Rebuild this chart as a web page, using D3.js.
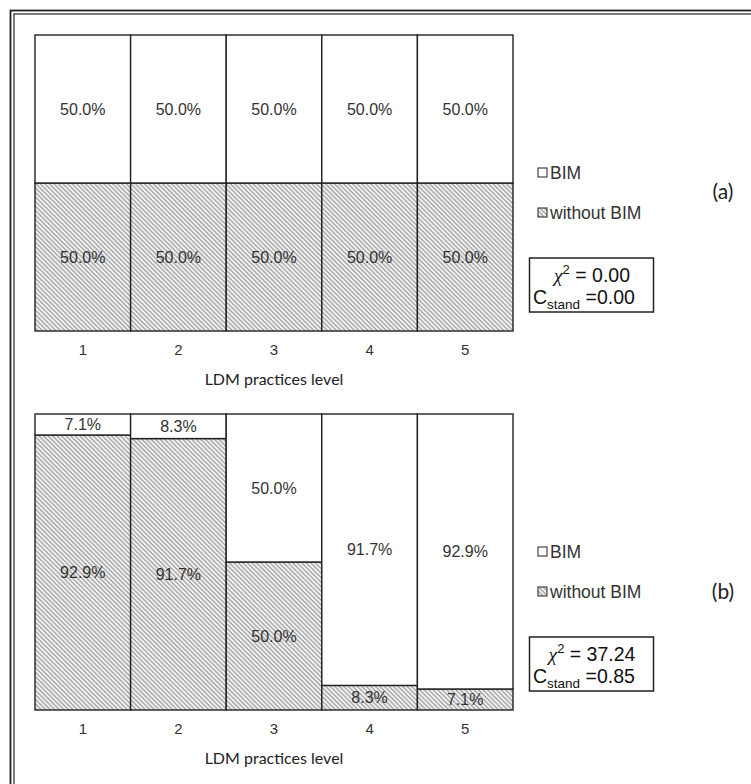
<!DOCTYPE html>
<html>
<head>
<meta charset="utf-8">
<script src="https://cdn.jsdelivr.net/npm/d3@7"></script>
<style>
  body { margin: 0; background: #fff; }
  svg { display: block; }
</style>
</head>
<body>
<div id="chart"></div>
<script>
// LDM practices level, share (%) of projects with / without BIM
const levels = ["1", "2", "3", "4", "5"];
const bimA = [50.0, 50.0, 50.0, 50.0, 50.0];
const noBimA = [50.0, 50.0, 50.0, 50.0, 50.0];
const bimB = [7.1, 8.3, 50.0, 91.7, 92.9];
const noBimB = [92.9, 91.7, 50.0, 8.3, 7.1];
const chiValues = ["0.00", "37.24"];
const cStandValues = ["0.00", "0.85"];
const panelTags = ["(a)", "(b)"];
const legendNames = ["BIM", "without BIM"];

const W = 751, H = 784;
const svg = d3.select("#chart").append("svg")
  .attr("width", W)
  .attr("height", H);

// hatch fill for "without BIM"
const defs = svg.append("defs");
const pat = defs.append("pattern")
  .attr("id", "hatch")
  .attr("patternUnits", "userSpaceOnUse")
  .attr("width", 3.2)
  .attr("height", 3.2)
  .attr("patternTransform", "rotate(-45)");
pat.append("rect").attr("width", 3.2).attr("height", 3.2).attr("fill", "#f3f3f3");
pat.append("line")
  .attr("x1", 1).attr("y1", 0).attr("x2", 1).attr("y2", 3.2)
  .attr("stroke", "#a0a0a0").attr("stroke-width", 1.3);

// double frame round the figure (runs off right / bottom)
svg.append("rect").attr("x", 10.5).attr("y", 10.5).attr("width", 900).attr("height", 900)
  .attr("fill", "none").attr("stroke", "#222").attr("stroke-width", 1.8);
svg.append("rect").attr("x", 14).attr("y", 14).attr("width", 900).attr("height", 900)
  .attr("fill", "none").attr("stroke", "#222").attr("stroke-width", 1.2);

const x = d3.scaleBand().domain(levels).range([35, 513]).padding(0);

function drawPanel(top, bim, noBim, chi, cst, tag) {
  const bottom = top + 296;
  const y = d3.scaleLinear().domain([0, 100]).range([bottom, top]);
  const g = svg.append("g");

  const rows = levels.map((l, i) => ({ level: l, bim: bim[i], noBim: noBim[i] }));

  // without BIM (bottom segment)
  g.selectAll("rect.nobim")
    .data(rows)
    .join("rect")
      .attr("class", "nobim")
      .attr("x", d => x(d.level))
      .attr("y", d => y(d.noBim))
      .attr("width", x.bandwidth())
      .attr("height", d => y(0) - y(d.noBim))
      .attr("fill", "url(#hatch)")
      .attr("stroke", "#222")
      .attr("stroke-width", 1.4);

  // BIM (top segment)
  g.selectAll("rect.bim")
    .data(rows)
    .join("rect")
      .attr("class", "bim")
      .attr("x", d => x(d.level))
      .attr("y", d => y(d.noBim + d.bim))
      .attr("width", x.bandwidth())
      .attr("height", d => y(d.noBim) - y(d.noBim + d.bim))
      .attr("fill", "#fff")
      .attr("stroke", "#222")
      .attr("stroke-width", 1.4);

  // value labels
  g.selectAll("text.lab-nobim")
    .data(rows)
    .join("text")
      .attr("class", "lab-nobim")
      .attr("x", d => x(d.level) + x.bandwidth() / 2)
      .attr("y", d => y(d.noBim / 2))
      .attr("dy", "0.36em")
      .attr("text-anchor", "middle")
      .attr("font-family", "Liberation Sans, Arial, sans-serif")
      .attr("font-size", "16px")
      .attr("fill", "#333")
      .text(d => d.noBim.toFixed(1) + "%");

  g.selectAll("text.lab-bim")
    .data(rows)
    .join("text")
      .attr("class", "lab-bim")
      .attr("x", d => x(d.level) + x.bandwidth() / 2)
      .attr("y", d => y(d.noBim + d.bim / 2))
      .attr("dy", "0.36em")
      .attr("text-anchor", "middle")
      .attr("font-family", "Liberation Sans, Arial, sans-serif")
      .attr("font-size", "16px")
      .attr("fill", "#333")
      .text(d => d.bim.toFixed(1) + "%");

  // x axis, labels only
  const ax = g.append("g")
    .attr("transform", `translate(0,${bottom})`)
    .call(d3.axisBottom(x).tickSize(0).tickPadding(13));
  ax.select(".domain").remove();
  ax.selectAll("text")
    .attr("font-family", "Liberation Sans, Arial, sans-serif")
    .attr("font-size", "15px")
    .attr("fill", "#333");

  g.append("text")
    .attr("x", (35 + 513) / 2)
    .attr("y", bottom + 54)
    .attr("text-anchor", "middle")
    .attr("font-family", "Lato, Open Sans, sans-serif")
    .attr("font-size", "16px")
    .attr("fill", "#222")
    .text("LDM practices level");

  // legend
  const leg = g.append("g");
  legendNames.forEach((name, i) => {
    const ly = top + 138 + i * 40;
    leg.append("rect")
      .attr("x", 538).attr("y", ly - 5).attr("width", 9).attr("height", 9)
      .attr("fill", i === 0 ? "#fff" : "url(#hatch)")
      .attr("stroke", "#333").attr("stroke-width", 1.1);
    leg.append("text")
      .attr("x", 550).attr("y", ly).attr("dy", "0.36em")
      .attr("font-family", "Liberation Sans, Arial, sans-serif")
      .attr("font-size", "17.5px")
      .attr("fill", "#333")
      .text(name);
  });

  // panel tag
  g.append("text")
    .attr("x", 723)
    .attr("y", tag === "(a)" ? top + 156 : top + 177)
    .attr("dy", "0.36em")
    .attr("text-anchor", "middle")
    .attr("font-family", "Lato, Open Sans, sans-serif")
    .attr("font-size", "21px")
    .attr("fill", "#222")
    .text(tag);

  // chi-square box
  const by = top + 223;
  g.append("rect")
    .attr("x", 529.5).attr("y", by).attr("width", 124).attr("height", 54)
    .attr("fill", "#fff").attr("stroke", "#222").attr("stroke-width", 1.5);
  const t1 = g.append("text")
    .attr("x", 592).attr("y", by + 24)
    .attr("text-anchor", "middle")
    .attr("font-family", "Liberation Sans, Arial, sans-serif")
    .attr("font-size", "19.5px")
    .attr("fill", "#111");
  t1.append("tspan").attr("font-family", "Liberation Serif, Times New Roman, serif").attr("font-style", "italic").text("\u03c7");
  t1.append("tspan").attr("font-size", "13px").attr("dy", "-8").text("2");
  t1.append("tspan").attr("dy", "8").text(" = " + chi);

  const t2 = g.append("text")
    .attr("x", 533).attr("y", by + 46)
    .attr("font-family", "Liberation Sans, Arial, sans-serif")
    .attr("font-size", "19.5px")
    .attr("fill", "#111");
  t2.append("tspan").text("C");
  t2.append("tspan").attr("font-size", "13.5px").attr("dy", "5").text("stand");
  t2.append("tspan").attr("dy", "-5").text(" =" + cst);
}

drawPanel(35, bimA, noBimA, chiValues[0], cStandValues[0], panelTags[0]);
drawPanel(414, bimB, noBimB, chiValues[1], cStandValues[1], panelTags[1]);
</script>
</body>
</html>
